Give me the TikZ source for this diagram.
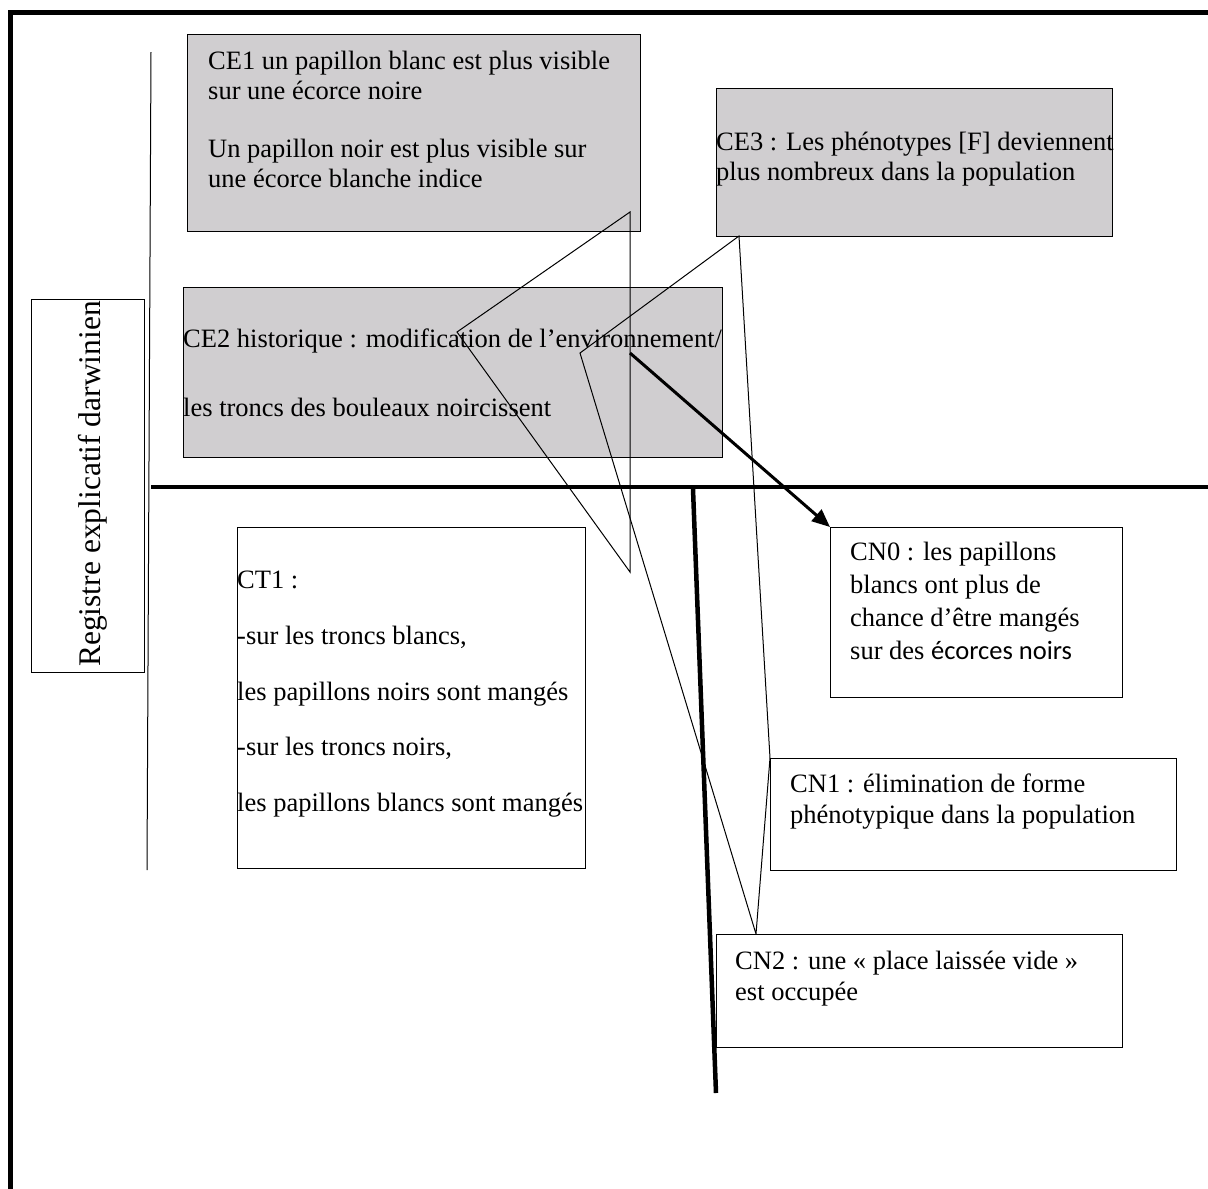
\documentclass[tikz,border=0pt]{standalone}
\usepackage{fontspec}
\setmainfont{Liberation Serif}
\newfontfamily\calib{Carlito}
\usetikzlibrary{arrows.meta}
\definecolor{boxgray}{RGB}{208,206,208}
\tikzset{
  box/.style={draw=black, line width=1.3pt, rectangle, inner sep=0pt, anchor=north west},
  gbox/.style={box, fill=boxgray},
  txt/.style={anchor=base west, inner sep=0pt, font=\fontsize{26.5}{30}\selectfont},
  fine/.style={line width=1pt},
  heavy/.style={line width=4.5pt},
}
\begin{document}
\begin{tikzpicture}[x=1pt,y=-1pt]
\useasboundingbox (0,0) rectangle (1208,1189);
\fill[white] (0,0) rectangle (1208,1189);
% frame
\draw[line width=5pt] (10,1189) -- (10,12) -- (1208,12);
% thin vertical line
\draw[fine] (151,52) -- (147,870);
% boxes
\node[box, minimum width=113pt, minimum height=373pt] (reg) at (31,299) {};
\node[gbox, minimum width=453pt, minimum height=197pt] (ce1) at (187,34) {};
\node[gbox, minimum width=396pt, minimum height=148pt] (ce3) at (716,88) {};
\node[gbox, minimum width=539pt, minimum height=170pt] (ce2) at (183,287) {};
\node[box, minimum width=348pt, minimum height=341pt] (ct1) at (237,527) {};
\node[box, minimum width=292pt, minimum height=170pt] (cn0) at (830,527) {};
\node[box, minimum width=406pt, minimum height=112pt] (cn1) at (770,758) {};
\node[box, minimum width=406pt, minimum height=113pt] (cn2) at (716,934) {};
% texts
\node[anchor=base, inner sep=0pt, rotate=90, font=\fontsize{31.5}{36}\selectfont] (regt) at (100,484) {Registre explicatif darwinien};
\node[txt] (ce1a) at (208,69) {CE1 un papillon blanc est plus visible};
\node[txt] (ce1b) at (208,99) {sur une écorce noire};
\node[txt] (ce1c) at (208,157) {Un papillon noir est plus visible sur};
\node[txt] (ce1d) at (208,187) {une écorce blanche indice};
\node[txt] (ce3a) at (716,150) {CE3 : Les phénotypes [F] deviennent};
\node[txt] (ce3b) at (716,180) {plus nombreux dans la population};
\node[txt] (ce2a) at (183,347) {CE2 historique : modification de l’environnement/};
\node[txt] (ce2b) at (183,416) {les troncs des bouleaux noircissent};
\node[txt] (ct1a) at (237,588) {CT1 :};
\node[txt] (ct1b) at (237,644) {-sur les troncs blancs,};
\node[txt] (ct1c) at (237,700) {les papillons noirs sont mangés};
\node[txt] (ct1d) at (237,755) {-sur les troncs noirs,};
\node[txt] (ct1e) at (237,811) {les papillons blancs sont mangés};
\node[txt] (cn0a) at (850,560) {CN0 : les papillons};
\node[txt] (cn0b) at (850,593) {blancs ont plus de};
\node[txt] (cn0c) at (850,626) {chance d’être mangés};
\node[txt] (cn0d) at (850,659) {sur des {\calib écorces noirs}};
\node[txt] (cn1a) at (790,792) {CN1 : élimination de forme};
\node[txt] (cn1b) at (790,823) {phénotypique dans la population};
\node[txt] (cn2a) at (735,969) {CN2 : une « place laissée vide »};
\node[txt] (cn2b) at (735,1000) {est occupée};
% separators
\draw[line width=4pt] (151,487) -- (1208,487);
\draw[heavy] (693,489) -- (716,1093);
% connectors
\coordinate (t1) at (630,212);
\coordinate (t2) at (457,332);
\coordinate (t3) at (630,572);
\coordinate (tm) at (630,353);
\draw[fine, line join=miter] (t1) -- (t2) -- (t3) -- cycle;
\coordinate (q1) at (739,236);
\coordinate (q2) at (580,353);
\coordinate (cn2top) at (756,934);
\draw[fine] (cn2top) -- (q2) -- (q1) -- (cn1.north west) -- (cn2top);
\draw[line width=3pt, -{Triangle[length=18pt,width=15pt]}] (tm) -- (cn0.north west);
\end{tikzpicture}
\end{document}
